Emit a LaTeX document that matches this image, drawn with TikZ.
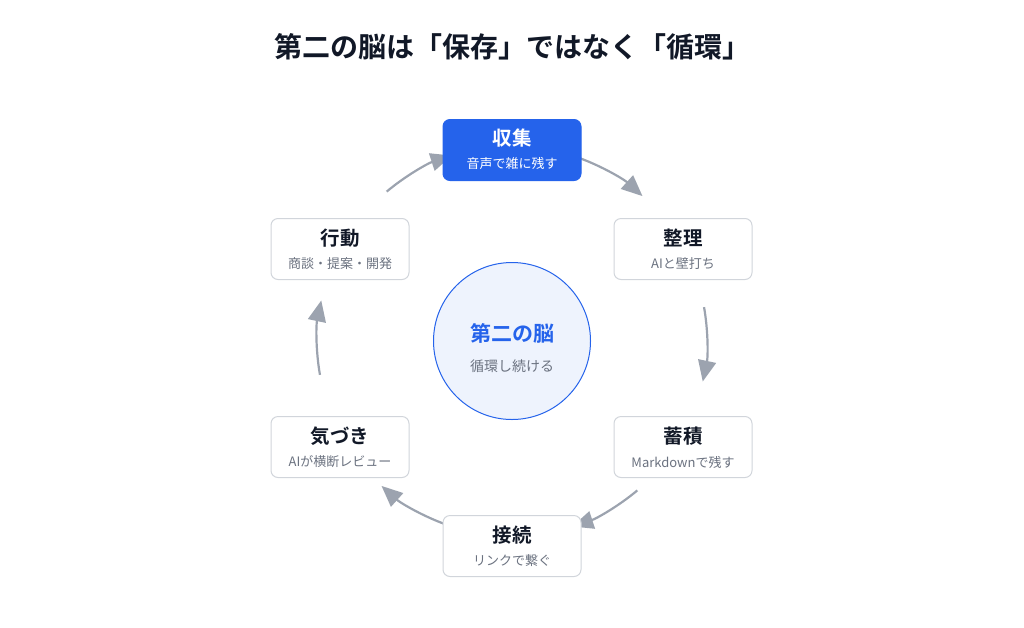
\documentclass[tikz,border=0pt]{standalone}
\usepackage{fontspec}
\setmainfont{Noto Sans CJK JP}
\newfontfamily\jpb{Noto Sans CJK JP Bold}
\usetikzlibrary{arrows.meta,calc}
\definecolor{blu}{HTML}{2563EB}
\definecolor{gbor}{HTML}{D1D5DB}
\definecolor{gtxt}{HTML}{6B7280}
\definecolor{dark}{HTML}{111827}
\definecolor{arr}{HTML}{9CA3AF}
\definecolor{cfill}{HTML}{EEF3FD}
\begin{document}
\begin{tikzpicture}[x=1pt,y=-1pt,
 box/.style={draw=gbor,line width=1pt,fill=white,rounded corners=7pt,minimum width=138pt,minimum height=61pt,align=center,inner sep=0pt},
 ttl/.style={font=\jpb\fontsize{19.5}{22}\selectfont,text=dark},
 sub/.style={font=\fontsize{13}{15}\selectfont,text=gtxt},
 cyc/.style={draw=arr,line width=2.2pt,-{Triangle[length=21pt,width=18pt]}}]
\useasboundingbox (0,0) rectangle (1024,627);
\node[font=\jpb\fontsize{28}{32}\selectfont,text=dark] (title) at (512,47) {第二の脳は「保存」ではなく「循環」};
\coordinate (c) at (512,341);
\foreach \k in {0,...,5}{
  \draw[cyc] ($(c)+({70-60*\k}:195pt)$) arc[start angle={70-60*\k},end angle={48-60*\k},radius=195pt];
}
\node[box,fill=blu,draw=blu] (n1) at (512,150) {};
\node[ttl,text=white] at (512,138) {収集};
\node[sub,text=white] at (512,164) {音声で雑に残す};
\node[box] (n2) at (683,249) {};
\node[ttl] at (683,238) {整理};
\node[sub] at (683,264) {AIと壁打ち};
\node[box] (n3) at (683,447) {};
\node[ttl] at (683,436) {蓄積};
\node[sub] at (683,462) {Markdownで残す};
\node[box] (n4) at (512,546) {};
\node[ttl] at (512,535) {接続};
\node[sub] at (512,561) {リンクで繋ぐ};
\node[box] (n5) at (340,447) {};
\node[ttl] at (340,436) {気づき};
\node[sub] at (340,462) {AIが横断レビュー};
\node[box] (n6) at (340,249) {};
\node[ttl] at (340,238) {行動};
\node[sub] at (340,264) {商談・提案・開発};
\node[circle,draw=blu,fill=cfill,line width=1pt,minimum size=157pt] (cc) at (512,341) {};
\node[font=\jpb\fontsize{21}{24}\selectfont,text=blu] at (512,333) {第二の脳};
\node[font=\fontsize{14}{16}\selectfont,text=gtxt] at (512,366) {循環し続ける};
\end{tikzpicture}
\end{document}
